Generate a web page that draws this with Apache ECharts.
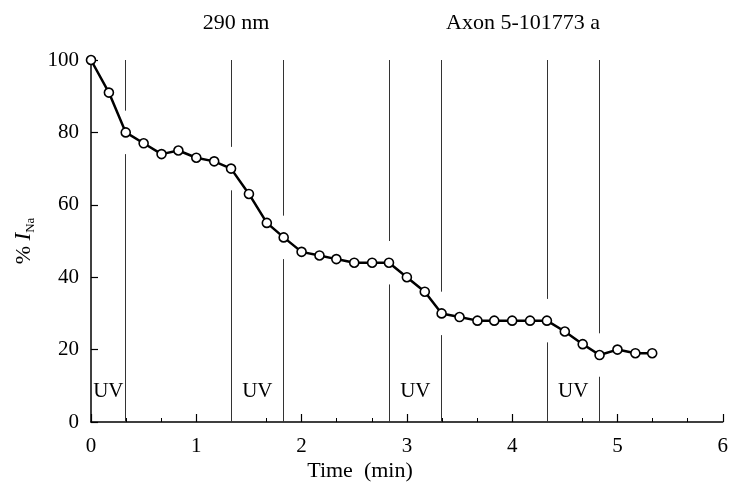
<!DOCTYPE html>
<html><head><meta charset="utf-8">
<script src="https://cdn.jsdelivr.net/npm/echarts@6/dist/echarts.min.js"></script>
<style>html,body{margin:0;padding:0;background:#fff}#c{width:731px;height:489px}</style>
</head><body><div id="c"></div>
<script>
var times = [0,0.17,0.33,0.5,0.67,0.83,1,1.17,1.33,1.5,1.67,1.83,2,2.17,2.33,2.5,2.67,2.83,3,3.17,3.33,3.5,3.67,3.83,4,4.17,4.33,4.5,4.67,4.83,5,5.17,5.33];
var values = [100,91,80,77,74,75,73,72,70,63,55,51,47,46,45,44,44,44,40,36,30,29,28,28,28,28,28,25,21.5,18.5,20,19,19];
var uvStarts = [0,1.33,2.83,4.33];
var uvEnds = [0.33,1.83,3.33,4.83];
var xTicks = [0,1,2,3,4,5,6];
var yTicks = [0,20,40,60,80,100];
var FONT = 'Liberation Serif';

function valueAt(t){
  for (var i=0;i<times.length-1;i++){
    if (t>=times[i] && t<=times[i+1]){
      var f=(t-times[i])/(times[i+1]-times[i]);
      return values[i]+f*(values[i+1]-values[i]);
    }
  }
  return values[values.length-1];
}
var lineTimes = [];
uvStarts.forEach(function(s){ if(s>0) lineTimes.push(s); });
uvEnds.forEach(function(e){ lineTimes.push(e); });
var gap = 6;
var segs = [];
lineTimes.forEach(function(t){
  var v = valueAt(t);
  segs.push([{coord:[t,0]},{coord:[t,v-gap]}]);
  segs.push([{coord:[t,v+gap]},{coord:[t,100]}]);
});
var uvLabels = uvStarts.map(function(s,i){ return [(s+uvEnds[i])/2, 8.3]; });

var chart = echarts.init(document.getElementById('c'));
chart.setOption({
  animation:false,
  backgroundColor:'#fff',
  title:[
    {text:'290 nm', left:231, top:7, textAlign:'center', textStyle:{fontFamily:FONT,fontSize:22,fontWeight:'normal',color:'#000'}},
    {text:'Axon 5-101773 a', left:518, top:7, textAlign:'center', textStyle:{fontFamily:FONT,fontSize:22,fontWeight:'normal',color:'#000'}},
    {text:'Time  (min)', left:355, top:455, textAlign:'center', textStyle:{fontFamily:FONT,fontSize:22,fontWeight:'normal',color:'#000'}}
  ],
  grid:{left:91,right:4,top:60,bottom:67},
  xAxis:{type:'value',min:0,max:6,interval:1,
    axisLine:{lineStyle:{color:'#000',width:1.5}},
    axisTick:{inside:true,length:8,lineStyle:{color:'#000',width:1.2}},
    minorTick:{show:true,splitNumber:3,length:4,lineStyle:{color:'#000',width:1}},
    axisLabel:{fontFamily:FONT,fontSize:21,color:'#000',margin:14,
      formatter:function(v){return xTicks.indexOf(v)>=0?String(v):'';}},
    splitLine:{show:false}},
  yAxis:{type:'value',min:0,max:100,interval:20,
    name:'{p|% }{i|I}{s|Na}',nameLocation:'middle',nameGap:52,nameRotate:90,
    nameTextStyle:{fontFamily:FONT,fontSize:22,color:'#000',
      rich:{p:{fontFamily:FONT,fontSize:22,color:'#000'},
            i:{fontFamily:FONT,fontSize:23,fontStyle:'italic',color:'#000'},
            s:{fontFamily:FONT,fontSize:13,color:'#000',padding:[12,0,0,0]}}},
    axisLine:{show:true,lineStyle:{color:'#000',width:1.5}},
    axisTick:{inside:true,length:7,lineStyle:{color:'#000',width:1.2}},
    axisLabel:{fontFamily:FONT,fontSize:21,color:'#000',margin:12,
      formatter:function(v){return yTicks.indexOf(v)>=0?String(v):'';}},
    splitLine:{show:false}},
  series:[
    {type:'line',data:[],z:1,silent:true,
      markLine:{silent:true,symbol:['none','none'],label:{show:false},
        lineStyle:{color:'#333',width:1,type:'solid',opacity:1},data:segs}},
    {type:'scatter',data:uvLabels,symbolSize:0,z:2,silent:true,
      itemStyle:{opacity:1},
      label:{show:true,position:'inside',formatter:'UV',fontFamily:FONT,fontSize:21,color:'#000',textBorderWidth:0}},
    {type:'line',data:times.map(function(t,i){return [t,values[i]];}),z:3,
      lineStyle:{color:'#000',width:2.5},
      symbol:'circle',symbolSize:9,
      itemStyle:{color:'#fff',borderColor:'#000',borderWidth:1.6}}
  ]
});
</script></body></html>
